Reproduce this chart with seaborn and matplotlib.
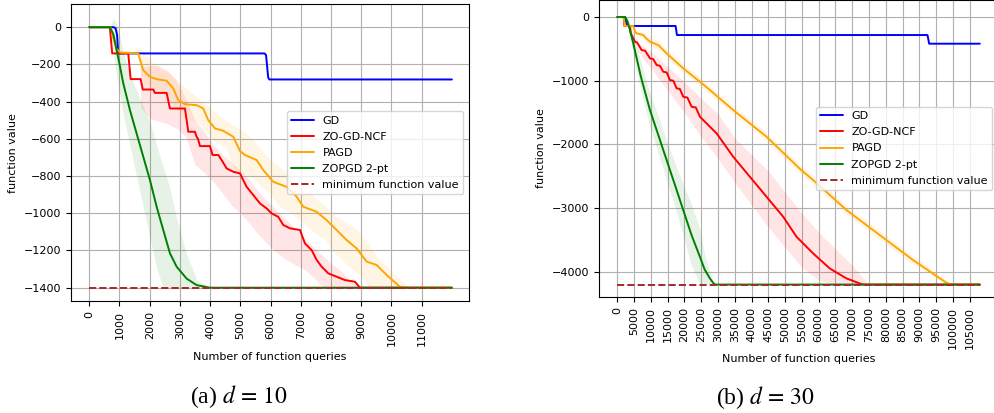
import numpy as np
import matplotlib
matplotlib.use("Agg")
import matplotlib.pyplot as plt
import seaborn as sns

# ---------------- d = 10 ----------------
f_min_10 = -1400
x_end_10 = 12000

gd10_x = [0, 800, 870, 920, 950, 980, 5800, 5850, 5880, 5920, 5960, 12000]
gd10_y = [0, 0, -5, -40, -120, -141, -141, -150, -200, -270, -281, -281]

ncf10_x = [0, 680, 760, 1290, 1370, 1700, 1770, 2120, 2170, 2560, 2670, 3167, 3277, 3497,
           3551, 3600, 3663, 3994, 4082, 4270, 4380, 4546, 4767, 4987, 5208, 5427, 5649, 5870,
           6036, 6254, 6420, 6641, 6972, 7138, 7359, 7525, 7690, 7910, 8186, 8461, 8792, 8958, 12000]
ncf10_y = [0, 0, -141, -141, -279, -279, -335, -335, -353, -353, -437, -437, -562, -562,
           -589, -600, -639, -639, -687, -687, -714, -759, -777, -786, -858, -902, -947, -974,
           -1001, -1019, -1063, -1081, -1090, -1162, -1198, -1251, -1287, -1323, -1341, -1359, -1368, -1400, -1400]
ncf10_band_x = [1700, 2000, 2300, 2600, 2900, 3200, 3500, 3800, 4100, 4400, 4700, 5000, 5300, 5600,
                5900, 6200, 6500, 6800, 7100, 7400, 7700, 8000, 8300, 8600, 8900, 9200, 9500]
ncf10_band_hi = [-213, -205, -206, -235, -290, -385, -500, -560, -630, -685, -725, -770, -820, -885,
                 -935, -985, -1032, -1080, -1130, -1178, -1225, -1270, -1306, -1355, -1395, -1400, -1400]
ncf10_band_lo = [-430, -490, -505, -520, -545, -590, -740, -780, -830, -890, -955, -1000, -1055, -1115,
                 -1165, -1210, -1248, -1275, -1300, -1340, -1390, -1400, -1400, -1400, -1400, -1400, -1400]

pagd10_x = [0, 700, 800, 900, 1025, 1622, 1787, 2009, 2230, 2561, 2780, 2945, 3167, 3553, 3773,
            3938, 4160, 4435, 4766, 4987, 5153, 5539, 5759, 6089, 6530, 6862, 7083, 7524, 7855,
            8186, 8517, 8848, 9179, 9510, 9841, 10281, 10557, 12000]
pagd10_y = [0, 0, -60, -115, -136, -141, -231, -267, -279, -288, -329, -392, -414, -419, -437,
            -500, -544, -557, -589, -665, -687, -714, -768, -831, -858, -911, -965, -992, -1037,
            -1090, -1144, -1189, -1260, -1278, -1332, -1395, -1400, -1400]
pagd10_band_x = [1550, 1800, 2100, 2400, 2700, 3000, 3300, 3600, 3900, 4200, 4500, 4800, 5100, 5400,
                 5700, 6000, 6300, 6600, 6900, 7200, 7500, 7800, 8100, 8400, 8700, 9000, 9300, 9600,
                 9900, 10200, 10500, 10800]
pagd10_band_hi = [-100, -130, -190, -230, -250, -300, -340, -380, -420, -460, -500, -530, -560, -600,
                  -660, -715, -750, -790, -845, -880, -920, -960, -1010, -1040, -1070, -1110, -1180, -1250,
                  -1295, -1345, -1385, -1400]
pagd10_band_lo = [-141, -300, -330, -340, -400, -470, -500, -510, -570, -620, -640, -770, -790, -810,
                  -855, -900, -965, -990, -1030, -1070, -1110, -1140, -1210, -1255, -1300, -1340, -1400, -1400,
                  -1400, -1400, -1400, -1400]

zopgd10_x = [0, 680, 800, 906, 1016, 1126, 1347, 1567, 1787, 2009, 2230, 2449, 2670, 2891, 3222, 3553, 3994, 12000]
zopgd10_y = [0, 0, -40, -124, -210, -302, -446, -571, -696, -822, -965, -1090, -1215, -1287, -1351, -1386, -1400, -1400]
zopgd10_std = [0, 0, 90, 140, 160, 170, 190, 230, 270, 310, 330, 340, 350, 260, 130, 30, 0, 0]

# ---------------- d = 30 ----------------
f_min_30 = -4200
x_end_30 = 108000

gd30_x = [0, 2290, 2500, 2700, 3085, 17370, 17570, 17770, 92400, 92650, 92900, 108000]
gd30_y = [0, 0, -20, -90, -141, -141, -210, -283, -283, -350, -419, -419]

ncf30_x = [0, 1900, 2100, 3780, 4000, 5270, 5900, 7250, 8300, 9735, 10700, 11720, 12700, 13700,
           14700, 15690, 16700, 17680, 18650, 19650, 20900, 22150, 23400, 24620, 26600, 27600,
           29590, 34540, 39500, 44470, 49430, 53400, 58350, 63320, 68290, 72250, 73200, 108000]
ncf30_y = [0, 0, -141, -141, -256, -388, -400, -518, -530, -649, -660, -754, -765, -859,
           -870, -990, -1000, -1120, -1130, -1252, -1265, -1409, -1420, -1566, -1670, -1723,
           -1827, -2194, -2508, -2822, -3136, -3450, -3712, -3948, -4104, -4183, -4200, -4200]
ncf30_band_x = [6000, 10000, 15000, 20000, 25000, 30000, 35000, 40000, 45000, 50000, 55000,
                60000, 65000, 70000, 75000]
ncf30_band_hi = [-400, -540, -780, -1020, -1280, -1520, -1900, -2160, -2420, -2750, -3080,
                 -3380, -3640, -3900, -4200]
ncf30_band_lo = [-520, -800, -1150, -1500, -1880, -2220, -2600, -2950, -3300, -3620, -3930,
                 -4130, -4200, -4200, -4200]

pagd30_x = [0, 1900, 2200, 4770, 5300, 5770, 7750, 8500, 9735, 12200, 14700, 19650, 24620, 27600,
            34540, 44470, 54400, 58350, 68290, 78200, 88150, 98070, 99560, 108000]
pagd30_y = [0, 0, -141, -141, -230, -256, -283, -330, -388, -440, -571, -806, -1016, -1147,
            -1461, -1880, -2384, -2560, -3031, -3424, -3817, -4173, -4200, -4200]
pagd30_std = [0, 0, 0, 0, 20, 40, 50, 60, 70, 70, 70, 70, 70, 70,
              70, 70, 70, 70, 70, 70, 70, 40, 0, 0]

zopgd30_x = [0, 2300, 3000, 3780, 4770, 7000, 9735, 12200, 14700, 17200, 19650, 22100, 24620,
             26000, 27600, 28500, 29100, 108000]
zopgd30_y = [0, 0, -60, -204, -414, -930, -1461, -1850, -2246, -2640, -3031, -3420, -3765,
             -3960, -4104, -4170, -4200, -4200]
zopgd30_std = [0, 0, 40, 120, 180, 230, 260, 290, 310, 340, 400, 480, 440, 240, 96, 30, 0, 0]


def std_band(mean, std, f_min):
    mean = np.asarray(mean, dtype=float)
    std = np.asarray(std, dtype=float)
    return np.maximum(mean - std, f_min), mean + std


def draw_panel(ax, runs, f_min, x_end):
    for name, color, x, y, bx, blo, bhi in runs:
        ax.fill_between(bx, blo, bhi, color=color, alpha=0.1, linewidth=0)
        sns.lineplot(x=x, y=y, color=color, label=name, ax=ax,
                     estimator=None, sort=False, linewidth=1.4)
    # reference level goes on top of the converged curves
    sns.lineplot(x=[0, x_end], y=[f_min, f_min], color="brown", linestyle="--",
                 label="minimum function value", ax=ax, estimator=None, linewidth=1.4, zorder=5)
    ax.legend(loc="center right", fontsize=8, labelspacing=0.55)
    ax.set_xlabel("Number of function queries")
    ax.set_ylabel("function value")
    ax.tick_params(axis="x", labelrotation=90)
    ax.grid(True)


sns.set_style("ticks", {"axes.grid": True, "grid.color": "#b0b0b0", "axes.edgecolor": "black",
                        "xtick.color": "black", "ytick.color": "black", "text.color": "black",
                        "axes.labelcolor": "black"})
plt.rcParams["font.family"] = ["DejaVu Sans"]
plt.rcParams["font.size"] = 8
plt.rcParams["mathtext.fontset"] = "stix"

fig = plt.figure(figsize=(9.94, 4.13), dpi=100)
ax1 = fig.add_axes([0.0714, 0.2705, 0.4004, 0.7191])
ax2 = fig.add_axes([0.6026, 0.2809, 0.4014, 0.7191])

g10_lo, g10_hi = std_band(zopgd10_y, zopgd10_std, f_min_10)
runs10 = [
    ("GD", "blue", gd10_x, gd10_y, gd10_x, gd10_y, gd10_y),
    ("ZO-GD-NCF", "red", ncf10_x, ncf10_y, ncf10_band_x, ncf10_band_lo, ncf10_band_hi),
    ("PAGD", "orange", pagd10_x, pagd10_y, pagd10_band_x, pagd10_band_lo, pagd10_band_hi),
    ("ZOPGD 2-pt", "green", zopgd10_x, zopgd10_y, zopgd10_x, g10_lo, g10_hi),
]
draw_panel(ax1, runs10, f_min_10, x_end_10)
ax1.set_xticks(range(0, 12000, 1000))
ax1.set_yticks(range(0, -1401, -200))
ax1.set_xlim(-605, 12565)
ax1.set_ylim(-1473, 123)

p30_lo, p30_hi = std_band(pagd30_y, pagd30_std, f_min_30)
g30_lo, g30_hi = std_band(zopgd30_y, zopgd30_std, f_min_30)
runs30 = [
    ("GD", "blue", gd30_x, gd30_y, gd30_x, gd30_y, gd30_y),
    ("ZO-GD-NCF", "red", ncf30_x, ncf30_y, ncf30_band_x, ncf30_band_lo, ncf30_band_hi),
    ("PAGD", "orange", pagd30_x, pagd30_y, pagd30_x, p30_lo, p30_hi),
    ("ZOPGD 2-pt", "green", zopgd30_x, zopgd30_y, zopgd30_x, g30_lo, g30_hi),
]
draw_panel(ax2, runs30, f_min_30, x_end_30)
ax2.set_xticks(range(0, 110000, 5000))
ax2.set_yticks(range(0, -4001, -1000))
ax2.set_xlim(-5450, 113400)
ax2.set_ylim(-4395, 267)

fig.text(239 / 994, 1 - 397 / 413, r"(a) $d\,=\,10$", ha="center", va="center",
         fontsize=17, family="Liberation Serif")
fig.text(766 / 994, 1 - 398 / 413, r"(b) $d\,=\,30$", ha="center", va="center",
         fontsize=17, family="Liberation Serif")

fig.savefig("out.png", dpi=100)
